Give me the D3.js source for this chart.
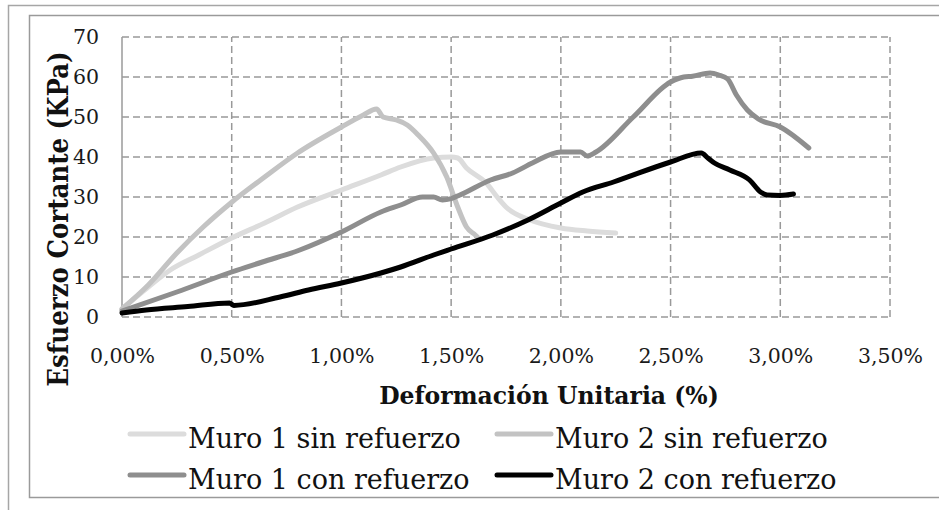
<!DOCTYPE html>
<html>
<head>
<meta charset="utf-8">
<script src="https://cdn.jsdelivr.net/npm/d3@7"></script>
<style>
  body { margin: 0; background: #fff; }
  svg { display: block; }
  .tick text { font-family: "DejaVu Serif", serif; font-size: 20.5px; fill: #1a1a1a; }
</style>
</head>
<body>
<div id="chart"></div>
<script>
// Data: [deformacion %, esfuerzo KPa]
var muro1Sin = [[0,2],[0.12,7.5],[0.22,11.75],[0.35,15.5],[0.5,19.75],[0.65,23.5],[0.8,27.5],[1.0,31.75],
    [1.18,35.5],[1.27,37.5],[1.42,39.75],[1.5,40],[1.53,39.75],[1.57,37.25],[1.66,33.5],[1.71,30],
    [1.75,27.5],[1.86,24.25],[2.0,22.25],[2.12,21.5],[2.25,21]];
var muro2Sin = [[0,2],[0.12,8],[0.25,16],[0.37,22.5],[0.5,28.7],[0.65,35],[0.8,41],[1.0,47.5],[1.1,50.5],
    [1.16,52],[1.19,50],[1.25,49.25],[1.3,48],[1.35,45.5],[1.42,41],[1.48,35],[1.53,27.5],[1.57,22.5],
    [1.61,20.5],[1.62,20]];
var muro1Con = [[0,1.5],[0.25,6.25],[0.5,11.25],[0.64,13.75],[0.81,16.75],[1.0,21.25],[1.18,26.25],[1.27,28],
    [1.37,30],[1.42,30],[1.46,29.25],[1.5,29.6],[1.54,30.5],[1.68,34.25],[1.78,36],[1.87,38.5],[2.0,41.25],
    [2.09,41.25],[2.12,40.25],[2.16,41.25],[2.33,50],[2.5,58.75],[2.56,60],[2.6,60.2],[2.68,61],[2.72,60.5],
    [2.76,59.5],[2.8,55.5],[2.85,51.75],[2.9,49.5],[3.0,47.5],[3.13,42.25]];
var muro2Con = [[0,1],[0.11,1.75],[0.3,2.6],[0.49,3.5],[0.51,2.9],[0.72,5],[0.85,6.75],[1.0,8.5],[1.18,11],
    [1.27,12.5],[1.42,15.5],[1.5,17],[1.69,20.5],[1.85,24.25],[2.0,28.5],[2.1,31.25],[2.24,33.75],[2.5,38.75],
    [2.64,41],[2.67,39.75],[2.7,38.5],[2.77,36.75],[2.86,34.25],[2.91,31.25],[2.94,30.5],[3.0,30.4],[3.06,30.75]];

var seriesNames = ["Muro 1 sin refuerzo", "Muro 2 sin refuerzo", "Muro 1 con refuerzo", "Muro 2 con refuerzo"];
var seriesData = [muro1Sin, muro2Sin, muro1Con, muro2Con];
var seriesColors = ["#dcdcdc", "#c3c3c3", "#8e8e8e", "#000000"];

var xTicks = [0, 0.5, 1, 1.5, 2, 2.5, 3, 3.5];
var yTicks = [0, 10, 20, 30, 40, 50, 60, 70];

// Canvas
var W = 939, H = 510;
var svg = d3.select("#chart").append("svg")
    .attr("width", W)
    .attr("height", H);

// Frames
svg.append("rect")
    .attr("x", 8.5).attr("y", 5.5).attr("width", 960).attr("height", 520)
    .attr("fill", "none").attr("stroke", "#a6a6a6").attr("stroke-width", 1.5);
svg.append("rect")
    .attr("x", 29.5).attr("y", 15.5).attr("width", 960).attr("height", 482)
    .attr("fill", "none").attr("stroke", "#9a9a9a").attr("stroke-width", 1.5);

// Scales
var x = d3.scaleLinear().domain([0, 3.5]).range([122, 890]);
var y = d3.scaleLinear().domain([0, 70]).range([317, 37]);

var es = d3.formatLocale({decimal: ",", thousands: ".", grouping: [3], currency: ["", " €"]});
var fmtPct = es.format(".2%");

// Grid
var grid = svg.append("g").attr("class", "grid");
grid.selectAll("line.h")
    .data(yTicks)
    .enter().append("line")
    .attr("x1", x(0)).attr("x2", x(3.5))
    .attr("y1", function(d) { return y(d); })
    .attr("y2", function(d) { return y(d); });
grid.selectAll("line.v")
    .data(xTicks.slice(1))
    .enter().append("line")
    .attr("x1", function(d) { return x(d); })
    .attr("x2", function(d) { return x(d); })
    .attr("y1", y(0)).attr("y2", y(70));
grid.selectAll("line")
    .attr("stroke", "#999")
    .attr("stroke-width", 1.5)
    .attr("stroke-dasharray", "7,4");

// left axis line (solid)
svg.append("line")
    .attr("x1", x(0)).attr("x2", x(0))
    .attr("y1", y(0)).attr("y2", y(70))
    .attr("stroke", "#9a9a9a").attr("stroke-width", 1.5);

// Axes
var xAxis = svg.append("g")
    .attr("transform", "translate(0," + (y(0) + 4) + ")")
    .call(d3.axisBottom(x).tickValues(xTicks).tickSize(0).tickPadding(27)
        .tickFormat(function(d) { return fmtPct(d / 100); }));
xAxis.select(".domain").remove();

var yAxis = svg.append("g")
    .attr("transform", "translate(" + (x(0) - 22) + ",0)")
    .call(d3.axisLeft(y).tickValues(yTicks).tickSize(0).tickPadding(1));
yAxis.select(".domain").remove();

// Lines
var line = d3.line()
    .x(function(d) { return x(d[0]); })
    .y(function(d) { return y(d[1]); })
    .curve(d3.curveMonotoneX);

svg.selectAll("path.serie")
    .data(seriesData)
    .enter().append("path")
    .attr("class", "serie")
    .attr("fill", "none")
    .attr("stroke", function(d, i) { return seriesColors[i]; })
    .attr("stroke-width", 5)
    .attr("stroke-linejoin", "round")
    .attr("stroke-linecap", "round")
    .attr("d", line);

// Axis titles
svg.append("text")
    .attr("x", 549).attr("y", 404)
    .attr("text-anchor", "middle")
    .style("font-family", "DejaVu Serif, serif")
    .style("font-weight", "bold")
    .style("font-size", "23.5px")
    .attr("fill", "#111")
    .text("Deformación Unitaria (%)");

svg.append("text")
    .attr("text-anchor", "middle")
    .attr("transform", "translate(68,219) rotate(-90) scale(1,1.15)")
    .style("font-family", "DejaVu Serif, serif")
    .style("font-weight", "bold")
    .style("font-size", "24.5px")
    .attr("fill", "#111")
    .text("Esfuerzo Cortante (KPa)");

// Legend
var legPos = [[130, 434], [497, 434], [130, 475], [497, 475]];
var leg = svg.selectAll("g.leg")
    .data(seriesNames)
    .enter().append("g")
    .attr("class", "leg")
    .attr("transform", function(d, i) { return "translate(" + legPos[i][0] + "," + legPos[i][1] + ")"; });
leg.append("line")
    .attr("x1", 0).attr("x2", 54)
    .attr("y1", 0).attr("y2", 0)
    .attr("stroke", function(d, i) { return seriesColors[i]; })
    .attr("stroke-width", 5)
    .attr("stroke-linecap", "round");
leg.append("text")
    .attr("x", 58).attr("y", 14)
    .style("font-family", "DejaVu Serif, serif")
    .style("font-size", "27px")
    .attr("fill", "#111")
    .text(function(d) { return d; });
</script>
</body>
</html>
